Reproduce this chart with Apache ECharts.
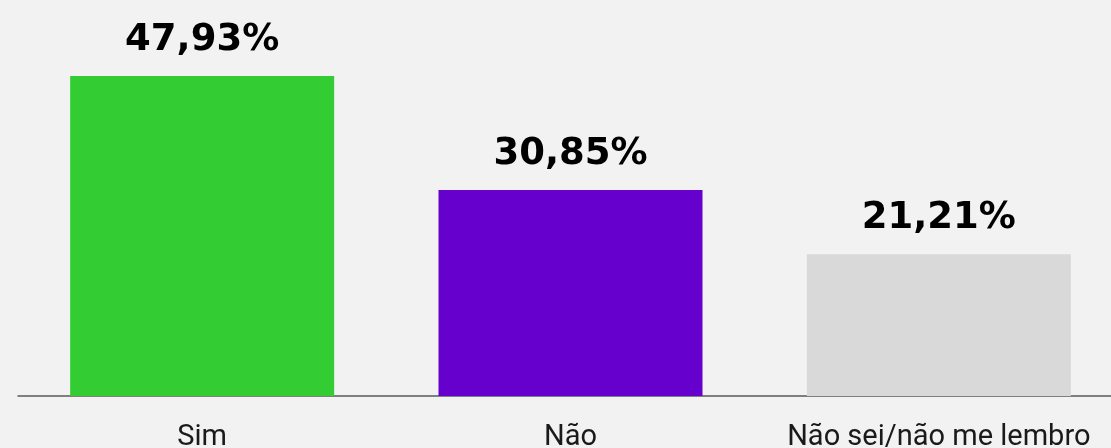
<!DOCTYPE html>
<html>
<head>
<meta charset="utf-8">
<script src="https://cdn.jsdelivr.net/npm/echarts@6/dist/echarts.min.js"></script>
<style>
html,body{margin:0;padding:0;background:#f2f2f2;}
#chart{width:1111px;height:448px;}
</style>
</head>
<body>
<div id="chart"></div>
<script>
const categories = ['Sim', 'Não', 'Não sei/não me lembro'];
const values = [47.93, 30.85, 21.21];
const barColors = ['#33cc33', '#6600cc', '#d9d9d9'];

let chart = echarts.init(document.getElementById('chart'));
chart.setOption({
  backgroundColor: '#f2f2f2',
  animation: false,
  grid: {left: 18, width: 1105, top: 0, bottom: 52, containLabel: false, outerBoundsMode: 'none'},
  xAxis: {
    type: 'category',
    data: categories,
    axisLine: {lineStyle: {color: '#595959', width: 1.5}},
    axisTick: {show: false},
    axisLabel: {
      interval: 0,
      hideOverlap: false,
      color: '#1a1a1a',
      fontSize: 29,
      fontFamily: 'Roboto, sans-serif',
      margin: 27
    }
  },
  yAxis: {
    type: 'value',
    min: 0,
    max: 59.3,
    show: false,
    splitLine: {show: false}
  },
  series: [{
    type: 'bar',
    barWidth: 264,
    data: values.map((v, i) => ({value: v, itemStyle: {color: barColors[i]}})),
    label: {
      show: true,
      position: 'top',
      distance: 17,
      color: '#000',
      fontSize: 37,
      fontWeight: 'bold',
      fontFamily: '"DejaVu Sans", sans-serif',
      formatter: p => p.value.toFixed(2).replace('.', ',') + '%'
    }
  }]
});
</script>
</body>
</html>
